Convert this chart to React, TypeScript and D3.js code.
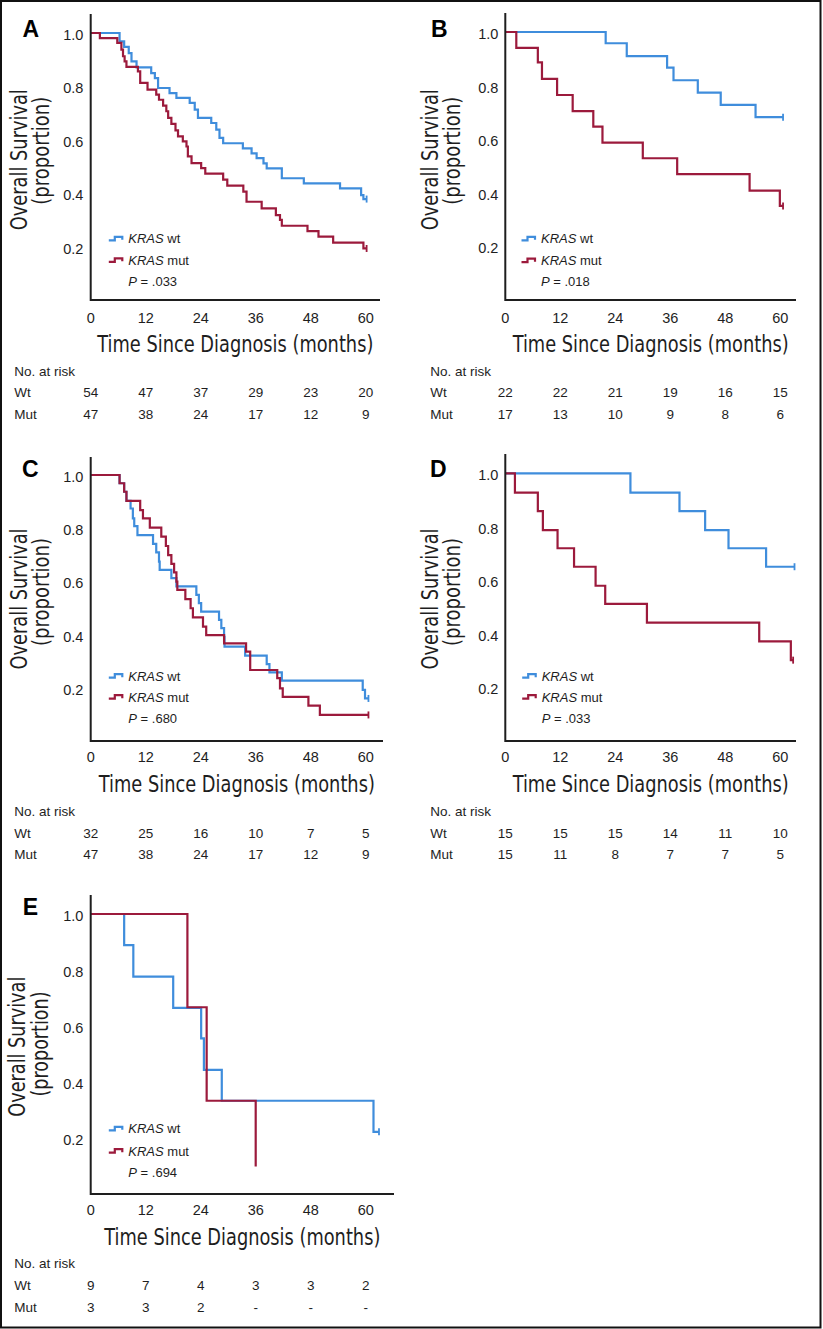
import React, { useLayoutEffect, useRef, useState } from "react";
import * as d3 from "d3";

// ---------- data ----------
const monthTicks = [0, 12, 24, 36, 48, 60];
const survivalTicks = [0.2, 0.4, 0.6, 0.8, 1.0];
const panelLetters = ["A", "B", "C", "D", "E"];
const pValues = [".033", ".018", ".680", ".033", ".694"];
const riskRowLabels = ["Wt", "Mut"];

// Panel A
const aWtTime = [0, 6.3, 7.3, 8.3, 8.9, 10.0, 13.2, 14.0, 14.7, 17.2, 18.7, 21.6, 22.7, 23.4, 26.3, 27.4, 28.1, 28.9, 33.2, 35.1, 36.2, 37.7, 38.4, 41.7, 46.5, 54.4, 59.0, 59.5];
const aWtSurv = [1, 0.969, 0.948, 0.925, 0.894, 0.871, 0.85, 0.831, 0.794, 0.775, 0.757, 0.738, 0.713, 0.682, 0.663, 0.638, 0.607, 0.587, 0.568, 0.549, 0.531, 0.512, 0.493, 0.456, 0.437, 0.418, 0.393, 0.378];
const aMutTime = [0, 2.0, 5.8, 6.7, 7.05, 7.4, 7.8, 10.3, 10.8, 12.4, 14.3, 14.9, 15.8, 16.5, 16.9, 17.6, 18.5, 19.05, 20.1, 20.9, 21.2, 22.0, 24.1, 25.0, 28.9, 29.8, 33.3, 34.0, 37.3, 40.4, 41.3, 41.7, 47.3, 49.7, 52.9, 59.5];
const aMutSurv = [1, 0.981, 0.963, 0.938, 0.913, 0.894, 0.873, 0.856, 0.813, 0.788, 0.769, 0.75, 0.728, 0.707, 0.682, 0.66, 0.635, 0.613, 0.594, 0.575, 0.538, 0.513, 0.494, 0.473, 0.451, 0.428, 0.406, 0.368, 0.343, 0.318, 0.3, 0.278, 0.258, 0.237, 0.215, 0.193];

// Panel B
const bWtTime = [0, 21.9, 26.5, 35.3, 36.7, 42.0, 47.0, 54.6];
const bWtSurv = [1, 0.958, 0.91, 0.867, 0.82, 0.774, 0.728, 0.682];
const bMutTime = [0, 2.4, 7.1, 8.0, 11.3, 14.7, 19.2, 21.2, 30.0, 37.5, 53.3, 59.9];
const bMutSurv = [1, 0.941, 0.887, 0.825, 0.765, 0.705, 0.647, 0.587, 0.529, 0.47, 0.408, 0.351];

// Panel C
const cWtTime = [0, 6.3, 7.3, 7.8, 8.7, 9.2, 9.5, 10.2, 13.6, 14.3, 14.9, 15.05, 17.6, 18.7, 23.05, 23.6, 24.1, 28.0, 28.5, 29.1, 29.2, 33.7, 38.4, 39.0, 41.7, 59.35, 59.85];
const cWtSurv = [1, 0.969, 0.937, 0.903, 0.874, 0.837, 0.808, 0.774, 0.741, 0.709, 0.674, 0.643, 0.612, 0.581, 0.549, 0.518, 0.486, 0.455, 0.424, 0.392, 0.355, 0.321, 0.289, 0.258, 0.227, 0.192, 0.16];
const cMutTime = [0, 6.3, 7.3, 7.8, 10.8, 11.4, 12.9, 15.4, 16.4, 16.9, 17.6, 18.2, 18.7, 18.9, 20.65, 21.8, 22.3, 24.5, 25.2, 29.1, 33.9, 34.8, 40.7, 41.3, 41.9, 47.5, 50.0];
const cMutSurv = [1, 0.969, 0.937, 0.903, 0.868, 0.837, 0.802, 0.768, 0.733, 0.699, 0.666, 0.634, 0.599, 0.568, 0.533, 0.499, 0.465, 0.43, 0.398, 0.367, 0.336, 0.267, 0.236, 0.198, 0.166, 0.133, 0.098];

// Panel D
const dWtTime = [0, 27.3, 38.0, 43.6, 48.7, 56.9];
const dWtSurv = [1, 0.928, 0.859, 0.788, 0.72, 0.651];
const dMutTime = [0, 2.1, 7.1, 8.2, 11.4, 15.0, 19.7, 21.8, 30.9, 55.4, 62.3];
const dMutSurv = [1, 0.928, 0.859, 0.788, 0.72, 0.651, 0.58, 0.512, 0.442, 0.372, 0.302];

// Panel E
const eWtTime = [0, 7.3, 9.3, 18.0, 24.1, 24.7, 28.6, 61.7];
const eWtSurv = [1, 0.889, 0.776, 0.665, 0.556, 0.443, 0.333, 0.222];
const eMutTime = [0, 21.1, 25.3, 36.0];
const eMutSurv = [1, 0.667, 0.333, 0.098];

// last follow-up time (censored) per curve [wt, mut]
const endTimes = [[60.2, 60.2], [60.6, 60.6], [60.6, 60.6], [63.1, 62.8], [62.9, 36.0]];
const censoredEnd = [[true, true], [true, true], [true, true], [true, true], [true, false]];

// numbers at risk
const aRiskWt = ["54", "47", "37", "29", "23", "20"];
const aRiskMut = ["47", "38", "24", "17", "12", "9"];
const bRiskWt = ["22", "22", "21", "19", "16", "15"];
const bRiskMut = ["17", "13", "10", "9", "8", "6"];
const cRiskWt = ["32", "25", "16", "10", "7", "5"];
const cRiskMut = ["47", "38", "24", "17", "12", "9"];
const dRiskWt = ["15", "15", "15", "14", "11", "10"];
const dRiskMut = ["15", "11", "8", "7", "7", "5"];
const eRiskWt = ["9", "7", "4", "3", "3", "2"];
const eRiskMut = ["3", "3", "2", "-", "-", "-"];

const curveData = [
  [[aWtTime, aWtSurv], [aMutTime, aMutSurv]],
  [[bWtTime, bWtSurv], [bMutTime, bMutSurv]],
  [[cWtTime, cWtSurv], [cMutTime, cMutSurv]],
  [[dWtTime, dWtSurv], [dMutTime, dMutSurv]],
  [[eWtTime, eWtSurv], [eMutTime, eMutSurv]],
];
const riskData = [
  [aRiskWt, aRiskMut],
  [bRiskWt, bRiskMut],
  [cRiskWt, cRiskMut],
  [dRiskWt, dRiskMut],
  [eRiskWt, eRiskMut],
];

// ---------- layout ----------
const layouts = [
  { x0: 90.7, x60: 365.7, axisEnd: 380, yZero: 300, yOne: 33, axisTop: 14, letterX: 22.5, letterY: 36.7, tickY: 322.7, titleY: 351.7, riskY: [376, 397.3, 418.7], riskX: 14.3, legX: 128.3, legY: [243.3, 264.8, 285.7], yTitleX: [26.5, 49], yTitleY: [159.7, 150.8], yTitleLen: [141, 108], tickRight: 83.3 },
  { x0: 505.3, x60: 780.3, axisEnd: 796, yZero: 300, yOne: 32, axisTop: 13, letterX: 431, letterY: 36.7, tickY: 322.7, titleY: 352.3, riskY: [376, 397.3, 418.7], riskX: 430.3, legX: 541, legY: [243.3, 265.2, 286], yTitleX: [437.5, 460], yTitleY: [159.7, 150.8], yTitleLen: [141, 108], tickRight: 498.3 },
  { x0: 90.7, x60: 365.7, axisEnd: 383, yZero: 741, yOne: 475, axisTop: 457, letterX: 22, letterY: 477, tickY: 761.7, titleY: 791.7, riskY: [816, 837.7, 859], riskX: 14.3, legX: 128.3, legY: [680.7, 701.7, 723.3], yTitleX: [26.5, 49], yTitleY: [599, 592], yTitleLen: [141, 108], tickRight: 83.3 },
  { x0: 505.3, x60: 780.3, axisEnd: 796, yZero: 741, yOne: 473.3, axisTop: 454, letterX: 430, letterY: 477, tickY: 761.7, titleY: 791.7, riskY: [816, 837.7, 859], riskX: 430.3, legX: 541.7, legY: [680.7, 701.7, 723], yTitleX: [437.5, 460], yTitleY: [599, 592], yTitleLen: [141, 108], tickRight: 498.3 },
  { x0: 90.7, x60: 365.7, axisEnd: 394, yZero: 1194, yOne: 914, axisTop: 895, letterX: 22.7, letterY: 915, tickY: 1215, titleY: 1245, riskY: [1268.3, 1290, 1311.7], riskX: 14.3, legX: 128.3, legY: [1133.3, 1155.7, 1176.7], yTitleX: [25, 48], yTitleY: [1046.7, 1044], yTitleLen: [140, 105], tickRight: 83.3 },
];

const COLORS = ["#3F8DDC", "#9C1A3C"];
const SANS = "'Liberation Sans', Arial, Helvetica, sans-serif";
const NARROW = "'Liberation Sans Narrow', 'Arial Narrow', 'DejaVu Sans Condensed', 'Liberation Sans', sans-serif";
const INK = "#1e1e1e";

// Text horizontally squeezed (by a measured scale) so that it spans a target length.
function FitText({ x, y, rotate = 0, target, fontSize, children }: { x: number; y: number; rotate?: number; target: number; fontSize: number; children: string }) {
  const ref = useRef<SVGTextElement>(null);
  const [sx, setSx] = useState(0.8);
  useLayoutEffect(() => {
    if (ref.current) {
      const len = ref.current.getComputedTextLength();
      if (len > 0) setSx(target / len);
    }
  }, [target, children]);
  return (
    <text
      ref={ref}
      transform={`translate(${x},${y}) rotate(${rotate}) scale(${sx},1)`}
      textAnchor="middle"
      fontFamily={NARROW}
      fontSize={fontSize}
      fill={INK}
    >
      {children}
    </text>
  );
}

function Panel({ idx }: { idx: number }) {
  const L = layouts[idx];
  const x = d3.scaleLinear().domain([0, 60]).range([L.x0, L.x60]);
  const y = d3.scaleLinear().domain([0, 1]).range([L.yZero, L.yOne]);
  const line = d3
    .line<[number, number]>()
    .x((d) => x(d[0]))
    .y((d) => y(d[1]))
    .curve(d3.curveStepAfter);

  const curves = curveData[idx].map(([times, surv], g) => {
    const pts: [number, number][] = times.map((t, i) => [t, surv[i]]);
    const end = endTimes[idx][g];
    const last = pts[pts.length - 1];
    if (end > last[0]) pts.push([end, last[1]]);
    const lastPt = pts[pts.length - 1];
    return { d: line(pts) || "", end: lastPt, censored: censoredEnd[idx][g], color: COLORS[g] };
  });

  const iconX0 = L.legX - 19.5;
  const iconX1 = L.legX - 6;

  return (
    <g>
      <text x={L.letterX} y={L.letterY} fontFamily={SANS} fontWeight="bold" fontSize={23} fill="#000">
        {panelLetters[idx]}
      </text>
      <FitText x={L.yTitleX[0]} y={L.yTitleY[0]} rotate={-90} target={L.yTitleLen[0]} fontSize={23}>
        Overall Survival
      </FitText>
      <FitText x={L.yTitleX[1]} y={L.yTitleY[1]} rotate={-90} target={L.yTitleLen[1]} fontSize={23}>
        (proportion)
      </FitText>
      {survivalTicks.map((v) => (
        <text key={v} x={L.tickRight} y={y(v) + 7} textAnchor="end" fontFamily={SANS} fontSize={14.5} fill={INK}>
          {d3.format(".1f")(v)}
        </text>
      ))}
      {monthTicks.map((t) => (
        <text key={t} x={x(t)} y={L.tickY} textAnchor="middle" fontFamily={SANS} fontSize={14.5} fill={INK}>
          {t}
        </text>
      ))}
      <FitText x={(L.x0 + L.axisEnd) / 2} y={L.titleY} target={276} fontSize={22.5}>
        Time Since Diagnosis (months)
      </FitText>
      {curves.map((c, g) => (
        <g key={g}>
          <path d={c.d} fill="none" stroke={c.color} strokeWidth={2.2} strokeLinejoin="miter" />
          {c.censored && (
            <line
              x1={x(c.end[0])}
              x2={x(c.end[0])}
              y1={y(c.end[1]) - 3.5}
              y2={y(c.end[1]) + 3.5}
              stroke={c.color}
              strokeWidth={1.8}
            />
          )}
        </g>
      ))}
      <path d={`M${L.x0},${L.axisTop} V${L.yZero} H${L.axisEnd}`} fill="none" stroke={INK} strokeWidth={2} />
      {[0, 1].map((g) => {
        const yc = L.legY[g] - 5;
        return (
          <g key={g}>
            <path
              d={`M${iconX0},${yc + 2} H${iconX0 + 6} V${yc - 1.5} H${iconX1} V${yc + 1.5}`}
              fill="none"
              stroke={COLORS[g]}
              strokeWidth={2.2}
            />
            <text x={L.legX} y={L.legY[g]} fontFamily={SANS} fontSize={13} fill={INK}>
              <tspan fontStyle="italic">KRAS</tspan>
              {g === 0 ? " wt" : " mut"}
            </text>
          </g>
        );
      })}
      <text x={L.legX} y={L.legY[2]} fontFamily={SANS} fontSize={13} fill={INK}>
        <tspan fontStyle="italic">P</tspan>
        {" = " + pValues[idx]}
      </text>
      <text x={L.riskX} y={L.riskY[0]} fontFamily={SANS} fontSize={13.5} fill={INK}>
        No. at risk
      </text>
      {riskRowLabels.map((lab, g) => (
        <g key={lab}>
          <text x={L.riskX} y={L.riskY[g + 1]} fontFamily={SANS} fontSize={13.5} fill={INK}>
            {lab}
          </text>
          {riskData[idx][g].map((n, i) => (
            <text
              key={i}
              x={x(monthTicks[i])}
              y={L.riskY[g + 1]}
              textAnchor="middle"
              fontFamily={SANS}
              fontSize={13.5}
              fill={INK}
            >
              {n}
            </text>
          ))}
        </g>
      ))}
    </g>
  );
}

export default function App() {
  return (
    <svg
      width={823}
      height={1329}
      viewBox="0 0 823 1329"
      style={{ position: "absolute", left: 0, top: 0, background: "#fff" }}
    >
      <rect x={0} y={0} width={823} height={1329} fill="#fff" />
      <rect x={1} y={1} width={819.5} height={1326.5} fill="none" stroke="#111" strokeWidth={2} />
      {layouts.map((_, i) => (
        <Panel key={i} idx={i} />
      ))}
    </svg>
  );
}
